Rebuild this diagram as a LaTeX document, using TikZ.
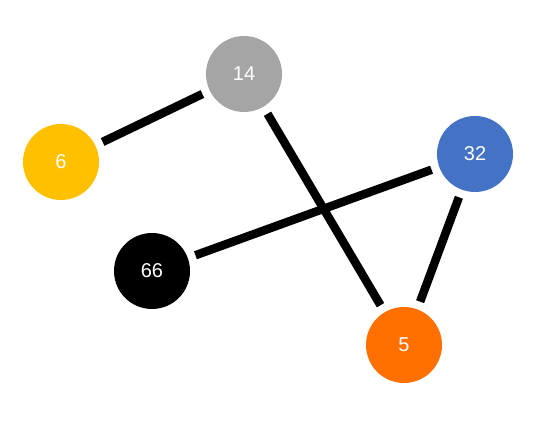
\documentclass[tikz,border=0pt]{standalone}
\usepackage{fontspec}
\setmainfont{Liberation Sans}
\definecolor{cgray}{HTML}{A5A5A5}
\definecolor{cyellow}{HTML}{FFC000}
\definecolor{cblue}{HTML}{4472C4}
\definecolor{corange}{HTML}{FF7000}
\begin{document}
\begin{tikzpicture}[x=1pt,y=1pt,
  vert/.style={circle,minimum size=76pt,inner sep=0pt,text=white,font=\fontsize{20}{22}\selectfont},
  edge/.style={line width=8.5pt,black,shorten <=8pt,shorten >=8pt}]
\useasboundingbox (0,0) rectangle (551,427);
\node[vert,fill=cgray] (n14) at (244,353) {14};
\node[vert,fill=cyellow] (n6) at (61,265) {6};
\node[vert,fill=cblue] (n32) at (475,273) {32};
\node[vert,fill=black] (n66) at (152,156) {66};
\node[vert,fill=corange] (n5) at (404,82) {5};
\draw[edge] (n6) -- (n14);
\draw[edge] (n14) -- (n5);
\draw[edge] (n32) -- (n66);
\draw[edge] (n32) -- (n5);
\end{tikzpicture}
\end{document}
